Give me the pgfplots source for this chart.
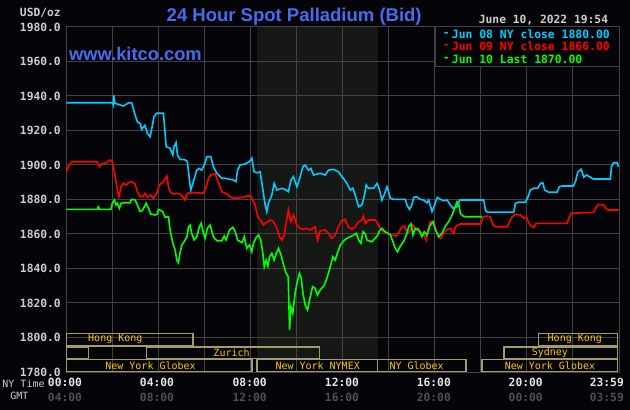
\documentclass[border=0pt]{standalone}
\usepackage{fontspec}
\usepackage{pgfplots}
\pgfplotsset{compat=1.18}
\setmainfont{DejaVu Sans Mono}
\newfontfamily\arialf{Liberation Sans}
\definecolor{bgc}{RGB}{5,4,8}
\definecolor{gridc}{RGB}{66,66,66}
\definecolor{shadec}{RGB}{22,24,22}
\definecolor{cyanc}{RGB}{0,204,255}
\definecolor{redc}{RGB}{255,0,0}
\definecolor{greenc}{RGB}{0,255,0}
\definecolor{titlec}{RGB}{72,108,240}
\definecolor{labc}{RGB}{205,205,205}
\definecolor{nyc}{RGB}{230,230,230}
\definecolor{gmtc}{RGB}{80,80,80}
\definecolor{boxc}{RGB}{160,156,110}
\definecolor{boxt}{RGB}{255,200,0}
\tikzset{
  tl/.style={font=\fontsize{11.3bp}{13bp}\selectfont\bfseries, text=labc, inner sep=0pt},
  bx/.style={draw=boxc, line width=1.5bp},
  bxt/.style={font=\fontsize{10bp}{12bp}\selectfont, text=boxt, inner sep=0pt},
  lg/.style={font=\fontsize{11.4bp}{13bp}\selectfont\bfseries, inner sep=0pt, anchor=west},
}
\begin{document}
\begin{tikzpicture}
\fill[bgc] (-66.5bp,-38bp) rectangle (563.5bp,372bp);
\begin{axis}[at={(0bp,0bp)}, anchor=south west, scale only axis,
  width=552.5bp, height=345bp,
  xmin=0, xmax=24, ymin=1780, ymax=1980,
  xtick=\empty, ytick=\empty,
  axis line style={draw=gridc, line width=1bp},
  clip=false]
% NYMEX session shading
\fill[shadec] (axis cs:8.27,1787.3) rectangle (axis cs:13.54,1980);
% grid
\pgfplotsinvokeforeach{2,4,6,8,10,12,14,16,18,20,22}{
  \draw[gridc, line width=1bp] (axis cs:#1,1780) -- (axis cs:#1,1980);}
\pgfplotsinvokeforeach{1800,1820,1840,1860,1880,1900,1920,1940,1960}{
  \draw[gridc, line width=1bp] (axis cs:0,#1) -- (axis cs:24,#1);}
% legend box
\draw[gridc, fill=bgc, line width=1bp] (axis cs:16.05,1957) rectangle (axis cs:24,1980);
% exchange boxes
\draw[bx] (axis cs:0,1795.2) rectangle (axis cs:5.5,1802.4);
\draw[bx] (axis cs:20.5,1795.2) rectangle (axis cs:23.94,1802.4);
\draw[bx] (axis cs:0,1787.9) rectangle (axis cs:0.95,1794.6);
\draw[bx] (axis cs:3.47,1787.9) rectangle (axis cs:11.0,1794.6);
\draw[bx] (axis cs:19.0,1787.9) rectangle (axis cs:23.94,1794.6);
\draw[bx] (axis cs:0,1780.3) rectangle (axis cs:8.05,1787.3);
\draw[bx] (axis cs:8.27,1780.3) rectangle (axis cs:13.5,1787.3);
\draw[bx] (axis cs:13.5,1780.3) rectangle (axis cs:17.35,1787.3);
\draw[bx] (axis cs:18.05,1780.3) rectangle (axis cs:23.94,1787.3);
\node[bxt] at (axis cs:2.12,1799.0) {Hong Kong};
\node[bxt] at (axis cs:22.08,1799.0) {Hong Kong};
\node[bxt] at (axis cs:7.17,1791.3) {Zurich};
\node[bxt] at (axis cs:21.0,1791.3) {Sydney};
\node[bxt] at (axis cs:3.65,1783.9) {New York Globex};
\node[bxt] at (axis cs:10.91,1783.9) {New York NYMEX};
\node[bxt] at (axis cs:15.21,1783.9) {NY Globex};
\node[bxt] at (axis cs:21.0,1783.9) {New York Globex};
% Jun 08
\addplot[cyanc, line width=1.6bp] coordinates {
(0,1936.1) (2.0,1936.1) (2.03,1935) (2.05,1940.6) (2.1,1935.8) (2.47,1934.2) (2.69,1936) (2.83,1936) (2.98,1929) (3.08,1925) (3.2,1924) (3.27,1920.7) (3.41,1923) (3.51,1918.4) (3.63,1916.4) (3.7,1920.7) (3.8,1928) (3.92,1930) (4.21,1930) (4.25,1924) (4.33,1910.6) (4.5,1909.7) (4.62,1905.8) (4.67,1910.6) (4.76,1913) (4.82,1905.8) (4.93,1903.3) (5.15,1903) (5.25,1902) (5.34,1891.3) (5.4,1885.5) (5.51,1890.3) (5.66,1897.1) (5.77,1898) (5.88,1897) (6.02,1901.3) (6.1,1904.8) (6.27,1904.8) (6.38,1899) (6.53,1895.2) (6.75,1892.3) (6.89,1892.3) (7.11,1891.7) (7.25,1891.3) (7.36,1890.3) (7.43,1897) (7.54,1900) (7.76,1900.6) (7.95,1902) (8.05,1904) (8.15,1896) (8.27,1895.5) (8.41,1896) (8.49,1889.3) (8.63,1876.8) (8.7,1873) (8.77,1877.8) (8.92,1882.6) (9.02,1889.3) (9.14,1885.5) (9.36,1886.5) (9.54,1885.5) (9.64,1884.5) (9.75,1891.3) (9.86,1893.2) (10.01,1887.4) (10.15,1893.2) (10.27,1899) (10.37,1900) (10.51,1897) (10.62,1898) (10.73,1894.2) (11.02,1895.2) (11.24,1894.2) (11.38,1897) (11.6,1897.5) (11.82,1896) (11.96,1893.2) (12.03,1892.3) (12.18,1889.3) (12.33,1885.5) (12.44,1886.5) (12.54,1882.6) (12.69,1875.8) (12.83,1876.8) (12.93,1881.6) (13.02,1888.4) (13.12,1886.5) (13.34,1886.5) (13.49,1889.3) (13.6,1885.5) (13.7,1879.7) (13.8,1882.6) (13.92,1887.4) (13.99,1884.5) (14.07,1880.7) (14.21,1880.1) (14.72,1880.1) (14.79,1876.8) (14.9,1874.3) (15.0,1876.8) (15.08,1881.2) (15.2,1881.6) (15.37,1880.1) (15.51,1879.7) (15.66,1878.1) (15.73,1879.7) (15.88,1873) (15.99,1876.8) (16.1,1881.2) (16.24,1880.1) (16.38,1879.3) (16.53,1879.7) (16.67,1876.8) (16.79,1874.9) (16.96,1875.8) (17.08,1879.7) (18.12,1879.7) (18.2,1873.9) (18.27,1872.6) (19.43,1872.6) (19.5,1877.8) (19.64,1878.4) (19.93,1878.4) (20.04,1881.2) (20.15,1885.5) (20.3,1886.5) (20.47,1886.5) (20.59,1889.3) (20.69,1889.7) (20.77,1885.5) (20.95,1884.2) (21.31,1884.2) (21.41,1887.4) (21.53,1887.8) (22.01,1887.8) (22.11,1890.3) (22.21,1896) (22.36,1897.5) (22.47,1892.9) (22.59,1894.2) (22.76,1892.9) (22.88,1891.9) (23.63,1891.9) (23.67,1899) (23.77,1901.3) (23.92,1901.3) (23.98,1899)
};
% Jun 09
\addplot[redc, line width=1.6bp] coordinates {
(0,1896.1) (0.08,1899) (0.23,1901.9) (1.34,1901.9) (1.43,1899) (1.53,1900.6) (1.75,1901.5) (1.89,1902.9) (1.99,1901.9) (2.07,1896.1) (2.14,1891.3) (2.21,1885.5) (2.28,1881.6) (2.37,1887.4) (2.47,1889.4) (2.59,1888.4) (2.69,1889.7) (2.83,1890.3) (2.98,1889) (3.08,1884.5) (3.2,1881.6) (3.34,1882) (3.41,1883.6) (3.51,1881.2) (3.66,1882.6) (3.77,1880.7) (3.92,1883.6) (4.03,1888.4) (4.21,1890.3) (4.36,1893.6) (4.43,1887.4) (4.5,1884.5) (4.64,1883.2) (4.79,1883.6) (4.93,1883.2) (5.05,1881.6) (5.15,1879.7) (5.25,1883.6) (5.51,1884) (5.95,1883.6) (6.07,1887.4) (6.17,1892.3) (6.27,1894.2) (6.46,1894.8) (6.56,1891.3) (6.67,1887.4) (6.75,1884.5) (6.97,1883.2) (7.11,1881.6) (7.25,1880.7) (7.68,1881.2) (7.83,1882) (8.01,1882) (8.12,1878.7) (8.2,1876.8) (8.27,1872) (8.34,1869.1) (8.44,1868.1) (8.56,1865.2) (8.67,1866.6) (8.85,1868.1) (8.99,1867.1) (9.14,1863.3) (9.25,1858.4) (9.36,1856.5) (9.46,1859.4) (9.54,1866.2) (9.64,1873.9) (9.75,1867.1) (9.86,1871) (9.98,1866.2) (10.12,1863.3) (10.3,1862.7) (10.44,1863.3) (10.59,1862.3) (10.8,1864.2) (10.9,1856.5) (11.02,1861.9) (11.24,1862.3) (11.38,1860.4) (11.53,1857.5) (11.67,1859.4) (11.82,1864.6) (11.96,1867.7) (12.1,1868.5) (12.25,1863.9) (12.4,1862.7) (12.54,1864.2) (12.69,1867.1) (12.83,1868.1) (12.9,1870.4) (12.98,1866.2) (13.12,1868.1) (13.41,1868.1) (13.51,1866.2) (13.63,1863.3) (13.77,1861.3) (13.99,1860.4) (14.14,1859.4) (14.33,1858.8) (14.43,1860.8) (14.57,1864.2) (14.69,1864.6) (14.79,1860.4) (14.93,1861.9) (15.05,1865.2) (15.2,1862.3) (15.37,1861.3) (15.51,1860) (15.63,1856.5) (15.7,1862.3) (15.8,1867.1) (15.95,1867.1) (16.07,1861.3) (16.17,1858) (16.27,1857.5) (16.38,1860.4) (16.53,1862.7) (16.67,1863.3) (16.82,1860.4) (16.89,1863.9) (16.99,1865.2) (17.11,1865.8) (18.0,1865.8) (18.09,1869.7) (18.24,1870.4) (18.41,1870) (18.53,1865.2) (18.63,1864.2) (19.14,1864.2) (19.25,1867.1) (19.36,1870) (19.5,1871.4) (19.72,1871) (19.86,1869.1) (19.98,1869.7) (20.08,1866.6) (20.18,1864.6) (20.3,1863.9) (20.41,1866.2) (21.75,1866.2) (21.82,1869.1) (21.92,1872) (22.9,1872.6) (23.02,1875.8) (23.12,1877.2) (23.34,1876.8) (23.46,1874.3) (23.56,1873.9) (23.98,1873.9)
};
% Jun 10
\addplot[greenc, line width=1.6bp] coordinates {
(0,1874.3) (1.34,1874.3) (1.38,1875.8) (1.45,1874.3) (1.93,1874.3) (1.99,1877.8) (2.08,1879.7) (2.15,1876.8) (2.21,1877.8) (2.3,1874.9) (2.37,1877.8) (2.47,1878.1) (2.76,1878.1) (2.83,1880.1) (2.98,1879.7) (3.08,1876.8) (3.2,1873) (3.31,1873.9) (3.46,1877.8) (3.56,1874.9) (3.66,1871.6) (3.85,1871) (3.95,1871.6) (3.99,1874.3) (4.18,1873) (4.28,1869.7) (4.43,1870) (4.5,1862.3) (4.62,1854.6) (4.72,1850.7) (4.79,1844.9) (4.86,1843.4) (4.93,1848.8) (5.01,1853.6) (5.11,1855.5) (5.23,1858.4) (5.3,1864.2) (5.37,1865.2) (5.44,1860.4) (5.54,1856.5) (5.66,1858.4) (5.77,1864.2) (5.85,1866.2) (5.95,1860.4) (6.02,1857.5) (6.12,1863.3) (6.24,1865.2) (6.38,1858.4) (6.53,1856.1) (6.75,1856.1) (6.85,1858.8) (6.93,1856.5) (7.08,1862.3) (7.23,1863.9) (7.33,1861.3) (7.43,1856.5) (7.62,1855) (7.72,1858.4) (7.83,1851.7) (7.95,1853.6) (8.05,1849.7) (8.12,1854.6) (8.24,1858) (8.34,1859.4) (8.44,1856.5) (8.53,1848.8) (8.59,1841) (8.67,1844.9) (8.75,1841.4) (8.82,1846.8) (8.92,1848.8) (9.02,1844.9) (9.11,1848.8) (9.21,1851.7) (9.32,1847.8) (9.43,1842) (9.54,1837.2) (9.63,1835.2) (9.69,1804.3) (9.75,1817.8) (9.83,1814) (9.93,1825.6) (10.01,1831.4) (10.12,1837.2) (10.2,1834.3) (10.27,1825.6) (10.37,1818.8) (10.47,1816) (10.59,1823.7) (10.69,1829.5) (10.8,1828.5) (10.9,1824.6) (11.02,1827.5) (11.2,1830.4) (11.31,1834.3) (11.46,1841) (11.57,1846.8) (11.67,1844.9) (11.79,1849.7) (11.89,1853.5) (12.04,1856) (12.18,1857.5) (12.33,1858.4) (12.47,1859.4) (12.59,1860.4) (12.69,1856.5) (12.79,1854.6) (12.88,1861.3) (12.98,1860) (13.05,1856.5) (13.27,1855.5) (13.49,1858.8) (13.6,1861.9) (13.7,1863.3) (13.85,1861.3) (14.07,1859.4) (14.18,1855.5) (14.28,1851.7) (14.38,1849.7) (14.5,1853) (14.64,1855.5) (14.79,1860.4) (14.86,1864.2) (14.97,1865.8) (15.05,1859.4) (15.15,1863.3) (15.3,1862.7) (15.44,1858.4) (15.54,1861.3) (15.66,1859.4) (15.8,1865.2) (15.92,1867.1) (16.02,1862.7) (16.17,1858.4) (16.31,1860.4) (16.46,1864.6) (16.6,1867.1) (16.75,1871) (16.89,1875.8) (16.96,1878.7) (17.03,1877.8) (17.11,1872) (17.23,1870.4) (17.33,1870) (18.05,1870)
};
% y tick labels
\pgfplotsinvokeforeach{1780,1800,1820,1840,1860,1880,1900,1920,1940,1960,1980}{
  \node[tl, anchor=east] at ([xshift=-5.5bp]axis cs:0,#1) {#1.0};}
\end{axis}
% titles and texts
\node[anchor=base, inner sep=0pt, text=titlec, font=\arialf\bfseries\fontsize{18.5bp}{20bp}\selectfont] at (227.7bp,350.3bp) {24 Hour Spot Palladium (Bid)};
\node[anchor=base west, inner sep=0pt, text=titlec, font=\arialf\bfseries\fontsize{18.3bp}{20bp}\selectfont] at (2.5bp,311bp) {www.kitco.com};
\node[tl, anchor=east] at (-5.5bp,358.7bp) {USD/oz};
\node[tl, anchor=east] at (541.8bp,351.5bp) {June 10, 2022 19:54};
% legend entries
\node[lg, text=cyanc] at (376.2bp,337.7bp) {-};
\node[lg, text=cyanc] at (385.2bp,337.7bp) {Jun 08 NY close 1880.00};
\node[lg, text=redc] at (376.2bp,325.5bp) {-};
\node[lg, text=redc] at (385.2bp,325.5bp) {Jun 09 NY close 1866.00};
\node[lg, text=greenc] at (376.2bp,313bp) {-};
\node[lg, text=greenc] at (385.2bp,313bp) {Jun 10 Last 1870.00};
% time axis labels
\node[inner sep=0pt, text=labc, font=\fontsize{10bp}{12bp}\selectfont] at (-43bp,-11.3bp) {NY Time};
\node[inner sep=0pt, text=labc, font=\fontsize{10bp}{12bp}\selectfont] at (-47.2bp,-24bp) {GMT};
\node[tl, text=nyc] at (-1.5bp,-10.7bp) {00:00};
\node[tl, text=nyc] at (90.5bp,-10.7bp) {04:00};
\node[tl, text=nyc] at (183.2bp,-10.7bp) {08:00};
\node[tl, text=nyc] at (275.5bp,-10.7bp) {12:00};
\node[tl, text=nyc] at (367.3bp,-10.7bp) {16:00};
\node[tl, text=nyc] at (459.2bp,-10.7bp) {20:00};
\node[tl, text=nyc] at (540.3bp,-10.7bp) {23:59};
\node[tl, text=gmtc] at (-1.5bp,-25bp) {04:00};
\node[tl, text=gmtc] at (90.5bp,-25bp) {08:00};
\node[tl, text=gmtc] at (183.2bp,-25bp) {12:00};
\node[tl, text=gmtc] at (275.5bp,-25bp) {16:00};
\node[tl, text=gmtc] at (367.3bp,-25bp) {20:00};
\node[tl, text=gmtc] at (459.2bp,-25bp) {00:00};
\node[tl, text=gmtc] at (540.3bp,-25bp) {03:59};
\end{tikzpicture}
\end{document}
